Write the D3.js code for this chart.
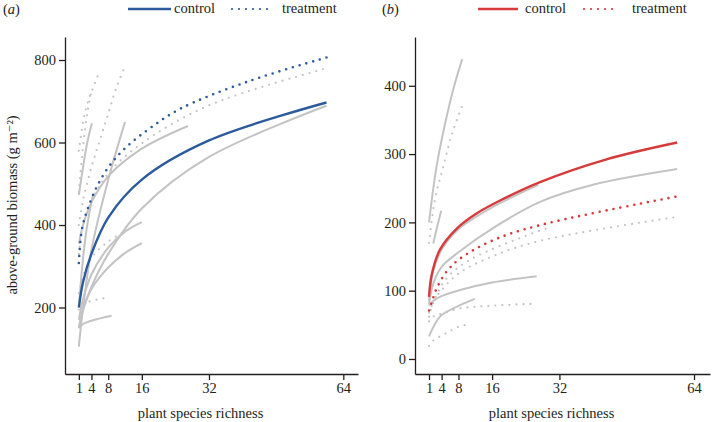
<!DOCTYPE html>
<html><head><meta charset="utf-8">
<script src="https://cdn.jsdelivr.net/npm/d3@7"></script>
<style>
body{margin:0;background:#fff}
text{font-family:"Liberation Serif","Times New Roman",Times,"DejaVu Serif",serif;fill:#231f20}
</style>
</head><body>
<svg id="chart" width="712" height="422"></svg>
<script>
// ---- data: [species richness, biomass] ----
const xTicks = [1, 4, 8, 16, 32, 64];
const yTicksA = [200, 400, 600, 800];
const yTicksB = [0, 100, 200, 300, 400];
const legendLabels = ["control", "treatment"];
const panelLabels = ["a", "b"];
const yTitle = "above-ground biomass (g m\u207B\u00B2)";
const xTitle = "plant species richness";

const aControlMean = [[1,200],[2,262],[4,330],[8,418],[16,510],[32,605],[60,697]];
const aTreatmentMean = [[1,308],[1.7,388],[3,436],[5.3,493],[8.4,545],[12.4,590],[18,635],[25,681],[41,747],[60,806]];
const aStudyControl = [
  [[1,150],[2,194],[4,250],[8,330],[16,440],[32,565],[60,689]],
  [[1,170],[2,220],[4,280],[8,345],[12,384],[16,407]],
  [[1,150],[2,195],[4,245],[8,297],[12,332],[16,356]],
  [[1,150],[2,160],[4,168],[8.8,180]],
  [[1,473],[2,540],[3,600],[4.1,647]],
  [[1,105],[2,200],[4,340],[8,510],[12,650]],
  [[1,355],[2,400],[4,455],[8,518],[16,585],[27,640]],
  [[1,200],[2,320],[3,400],[4.3,470]]
];
const aStudyTreatment = [
  [[1,330],[2,400],[4,458],[8,525],[16,598],[32,690],[60,780]],
  [[1,400],[2,460],[4,540],[6,606],[8,670],[10,735],[12,784]],
  [[1,580],[1.7,630],[2.5,675],[3.7,715],[4.5,735],[5.6,764]],
  [[1,480],[2,590],[3,670],[4,725]],
  [[1,195],[2,208],[4,216],[8.4,225]],
  [[1,235],[2,275],[4,320],[8,360],[13,390]]
];

const bControlMean = [[1,91],[1.63,123],[3.6,160],[7.6,191],[12.3,213],[17.9,232],[27.4,259],[43,292],[60,317]];
const bTreatmentMean = [[1,71],[1.6,82],[2.8,103],[5.2,128],[8.4,147],[16.3,174],[27.4,196],[60,238]];
const bStudyControl = [
  [[1,85],[2,128],[4,160],[8,190],[16,222],[27,255]],
  [[1,80],[2,110],[4,135],[8.4,158],[16.3,192],[27.4,230],[40,255],[60,278]],
  [[1,78],[2,85],[3.6,91],[8.4,101],[16,112],[26.6,121]],
  [[1,33],[3.6,62],[6.8,74],[11.9,88]],
  [[1,200],[2.8,282],[5.2,355],[7,400],[8.9,439]],
  [[2,169],[3,195],[3.9,217]]
];
const bStudyTreatment = [
  [[1,170],[2.4,233],[4.4,282],[6.5,330],[8.8,369]],
  [[1,62],[2,82],[5.2,118],[10.7,145],[27.4,188],[30,193]],
  [[1,68],[2.8,91],[8,125],[16,150],[27.4,173],[60,208]],
  [[1,55],[2,62],[4.4,67],[8.4,74],[16,78],[26.6,81]],
  [[1,19],[2,27],[5.2,38],[8,47],[10.7,51]]
];

// ---- drawing ----
const svg = d3.select("#chart");
const GRAY = "#c3c3c3";
const DOT = "0,7";
const FONT = '"Liberation Serif","Times New Roman",Times,"DejaVu Serif",serif';

function panel(cfg) {
  const g = svg.append("g");
  const x = d3.scaleLinear().domain(cfg.xDomain).range(cfg.xRange);
  const y = d3.scaleLinear().domain(cfg.yDomain).range(cfg.yRange);
  const line = d3.line().x(d => x(d[0])).y(d => y(d[1])).curve(d3.curveCatmullRom.alpha(0.5));

  const ax = g.append("g").attr("transform", `translate(0,${cfg.yRange[0]})`)
    .call(d3.axisBottom(x).tickValues(xTicks).tickSize(6).tickSizeOuter(0).tickPadding(3));
  const ay = g.append("g").attr("transform", `translate(${cfg.xRange[0]},0)`)
    .call(d3.axisLeft(y).tickValues(cfg.yTicks).tickSize(6).tickSizeOuter(0).tickPadding(3));
  [ax, ay].forEach(a => {
    a.attr("font-family", null).attr("font-size", null);
    a.selectAll("path,line").attr("stroke", "#231f20").attr("stroke-width", 1.3);
    a.selectAll("text").style("font-family", FONT).style("font-size", "14.5px").attr("fill", "#231f20");
  });

  const plot = g.append("g");
  cfg.studyC.forEach(s => plot.append("path").attr("d", line(s)).attr("fill", "none")
    .attr("stroke", GRAY).attr("stroke-width", 2));
  cfg.studyT.forEach(s => plot.append("path").attr("d", line(s)).attr("fill", "none")
    .attr("stroke", GRAY).attr("stroke-width", 2.2).attr("stroke-linecap", "round").attr("stroke-dasharray", DOT));
  plot.append("path").attr("d", line(cfg.meanT)).attr("fill", "none")
    .attr("stroke", cfg.color).attr("stroke-width", 2.6).attr("stroke-linecap", "round").attr("stroke-dasharray", DOT);
  plot.append("path").attr("d", line(cfg.meanC)).attr("fill", "none")
    .attr("stroke", cfg.color).attr("stroke-width", 2.4);

  g.append("text").attr("x", (cfg.xRange[0] + cfg.xRange[1]) / 2 + cfg.xTitleShift).attr("y", 418)
    .attr("text-anchor", "middle").style("font-family", FONT).style("font-size", "14.5px").text(xTitle);

  const pl = g.append("text").attr("x", cfg.labelX).attr("y", 14).style("font-family", FONT).style("font-size", "14.5px");
  pl.append("tspan").text("(");
  pl.append("tspan").style("font-style", "italic").text(cfg.label);
  pl.append("tspan").text(")");

  const lg = g.append("g");
  lg.append("line").attr("x1", cfg.leg[0]).attr("x2", cfg.leg[1]).attr("y1", 9).attr("y2", 9)
    .attr("stroke", cfg.color).attr("stroke-width", 2.4);
  lg.append("text").attr("x", cfg.leg[2]).attr("y", 13).style("font-family", FONT).style("font-size", "14.5px").text(legendLabels[0]);
  lg.append("line").attr("x1", cfg.leg[3]).attr("x2", cfg.leg[4]).attr("y1", 9).attr("y2", 9)
    .attr("stroke", cfg.color).attr("stroke-width", 2.2).attr("stroke-linecap", "round").attr("stroke-dasharray", DOT);
  lg.append("text").attr("x", cfg.leg[5]).attr("y", 13).style("font-family", FONT).style("font-size", "14.5px").text(legendLabels[1]);
}

panel({
  xDomain: [-2.3, 67.5], xRange: [65, 358],
  yDomain: [38.8, 855.8], yRange: [374, 37], yTicks: yTicksA,
  studyC: aStudyControl, studyT: aStudyTreatment,
  meanC: aControlMean, meanT: aTreatmentMean, color: "#2c5b9c",
  label: panelLabels[0], labelX: 3, xTitleShift: -11,
  leg: [128, 171, 174, 232, 273, 282]
});
panel({
  xDomain: [-2.33, 67.8], xRange: [415, 710],
  yDomain: [-22, 471.4], yRange: [374, 37], yTicks: yTicksB,
  studyC: bStudyControl, studyT: bStudyTreatment,
  meanC: bControlMean, meanT: bTreatmentMean, color: "#d63b3b",
  label: panelLabels[1], labelX: 382, xTitleShift: -11,
  leg: [478, 518, 525, 584, 616, 632]
});

svg.append("text").attr("transform", "translate(17,205) rotate(-90)")
  .attr("text-anchor", "middle").style("font-family", FONT).style("font-size", "14.5px").text(yTitle);
</script>
</body></html>
